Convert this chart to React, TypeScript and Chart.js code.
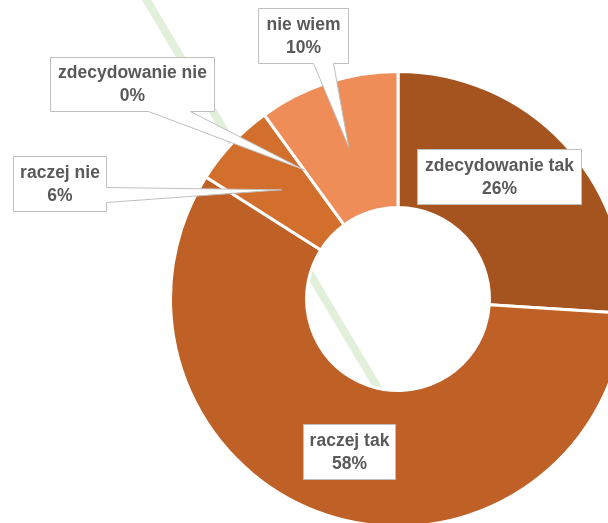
import React, { useEffect, useRef } from "react";
import { Chart, registerables } from "chart.js";

Chart.register(...registerables);

const categories = ["zdecydowanie tak", "raczej tak", "raczej nie", "zdecydowanie nie", "nie wiem"];
const percentValues = [26, 58, 6, 0, 10];
const sliceColors = ["#A5541F", "#BF6127", "#D36F2C", "#D97A3C", "#EE8D58"];

// callout layout: box top-left relative to doughnut centre, size, pointer
type Callout = { dx: number; dy: number; w: number; h: number; side?: "bottom" | "right"; b1?: number; b2?: number };
const calloutLayout: Callout[] = [
  { dx: 19, dy: -150, w: 164, h: 55 },
  { dx: -95, dy: 125, w: 92, h: 55 },
  { dx: -385, dy: -143, w: 93, h: 55, side: "right", b1: 31, b2: 46 },
  { dx: -348, dy: -242, w: 164, h: 54, side: "bottom", b1: 98, b2: 140 },
  { dx: -140, dy: -291, w: 90, h: 55, side: "bottom", b1: 55, b2: 75 },
];

const FONT = "bold 17.5px 'Liberation Sans', Arial, sans-serif";

const decorLine = {
  id: "decorLine",
  beforeDatasetsDraw(chart: any) {
    const arc = chart.getDatasetMeta(0).data[0];
    if (!arc) return;
    const { x, y } = arc;
    const ctx = chart.ctx;
    ctx.save();
    ctx.strokeStyle = "#E2EFDA";
    ctx.lineWidth = 8;
    ctx.beginPath();
    ctx.moveTo(x - 255, y - 305);
    ctx.lineTo(x + 17, y + 151);
    ctx.stroke();
    ctx.restore();
  },
};

const callouts = {
  id: "callouts",
  afterDatasetsDraw(chart: any) {
    const meta = chart.getDatasetMeta(0);
    const ctx = chart.ctx;
    const c = meta.data[0];
    const cx = c.x, cy = c.y;
    ctx.save();
    meta.data.forEach((arc: any, i: number) => {
      const L = calloutLayout[i];
      if (!L) return;
      const x0 = Math.round(cx + L.dx) + 0.5;
      const y0 = Math.round(cy + L.dy) + 0.5;
      const x1 = x0 + L.w;
      const y1 = y0 + L.h;
      const tip = arc.tooltipPosition(true);
      ctx.beginPath();
      ctx.moveTo(x0, y0);
      ctx.lineTo(x1, y0);
      if (L.side === "right") {
        ctx.lineTo(x1, y0 + (L.b1 as number));
        ctx.lineTo(tip.x, tip.y);
        ctx.lineTo(x1, y0 + (L.b2 as number));
      }
      ctx.lineTo(x1, y1);
      if (L.side === "bottom") {
        ctx.lineTo(x0 + (L.b2 as number), y1);
        ctx.lineTo(tip.x, tip.y);
        ctx.lineTo(x0 + (L.b1 as number), y1);
      }
      ctx.lineTo(x0, y1);
      ctx.closePath();
      ctx.fillStyle = "#FFFFFF";
      ctx.fill();
      ctx.strokeStyle = "#BFBFBF";
      ctx.lineWidth = 1;
      ctx.stroke();
      ctx.fillStyle = "#595959";
      ctx.font = FONT;
      ctx.textAlign = "center";
      ctx.textBaseline = "middle";
      const mx = x0 + L.w / 2;
      const my = y0 + L.h / 2;
      ctx.fillText(categories[i], mx, my - 11);
      ctx.fillText(percentValues[i] + "%", mx, my + 12);
    });
    ctx.restore();
  },
};

export default function App() {
  const ref = useRef<HTMLCanvasElement | null>(null);
  useEffect(() => {
    if (!ref.current) return;
    const chart = new Chart(ref.current, {
      type: "doughnut",
      data: {
        labels: categories,
        datasets: [
          {
            data: percentValues,
            backgroundColor: sliceColors,
            borderColor: "#FFFFFF",
            borderWidth: 3,
            clip: false as any,
          },
        ],
      },
      options: {
        animation: false,
        responsive: true,
        maintainAspectRatio: false,
        devicePixelRatio: 1,
        radius: 227.5,
        cutout: "40.2%",
        layout: { padding: { left: 188, top: 75, right: 0, bottom: 0 } },
        plugins: { legend: { display: false }, tooltip: { enabled: false } },
      } as any,
      plugins: [decorLine, callouts],
    });
    return () => chart.destroy();
  }, []);
  return (
    <div style={{ position: "fixed", left: 0, top: 0, width: 608, height: 523, background: "#FFFFFF" }}>
      <canvas ref={ref} />
    </div>
  );
}
